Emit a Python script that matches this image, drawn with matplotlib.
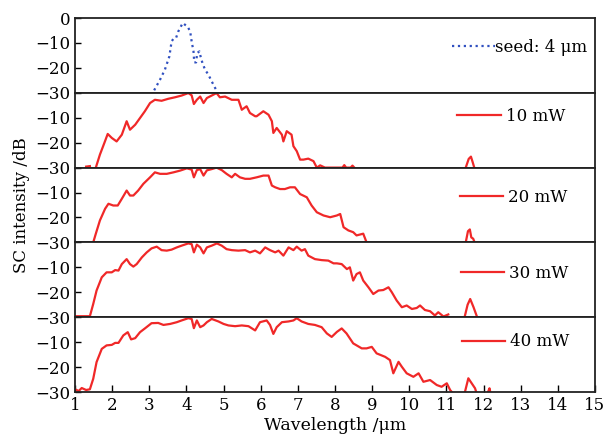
import matplotlib
matplotlib.use("Agg")
import matplotlib.pyplot as plt

plt.rcParams.update({"font.family": ["DejaVu Serif"],
                     "font.size": 12,
                     "axes.unicode_minus": True})

# seed pulse at 4 um
seed_wl = [3.13, 3.29, 3.42, 3.54, 3.60, 3.65, 3.72, 3.78, 3.90, 3.96, 4.03, 4.10,
           4.14, 4.19, 4.21, 4.26, 4.29, 4.35, 4.38, 4.43, 4.50, 4.59, 4.68, 4.77, 4.83]
seed_db = [-29.0, -24.7, -20.7, -15.4, -9.4, -8.3, -8.0, -5.4, -2.0, -2.7, -3.4, -5.4,
           -9.4, -13.4, -17.8, -17.8, -14.0, -13.4, -15.4, -18.0, -20.7, -22.7, -25.4, -28.0, -29.6]

# 10 mW
p10_wl = [1.30, 1.40, None, 1.56, 1.67, 1.79, 1.88, 1.99, 2.12, 2.26, 2.39, 2.48, 2.62, 2.75,
          2.88, 3.02, 3.15, 3.33, 3.51, 3.69, 3.87, 4.05, 4.14, 4.20, 4.28, 4.37, 4.46,
          4.55, 4.68, 4.81, 4.90, 5.04, 5.22, 5.40, 5.49, 5.62, 5.71, 5.85, 5.89, 6.07,
          6.21, 6.30, 6.34, 6.43, 6.57, 6.61, 6.70, 6.83, 6.88, 6.97, 7.06, 7.15, 7.28,
          7.42, 7.51, 7.60, 7.73, 7.85, 8.20, 8.25, 8.30, 8.42, 8.47, 8.52, None,
          11.52, 11.60, 11.66, 11.70, 11.75]
p10_db = [-29.6, -29.4, None, -30.0, -24.8, -20.1, -16.5, -18.1, -19.5, -16.8, -11.4, -14.8,
          -12.8, -10.1, -7.4, -4.1, -2.8, -3.2, -2.4, -1.8, -1.1, -0.1, -1.0, -4.5, -2.8,
          -1.5, -4.1, -2.1, -1.1, -0.1, -1.8, -1.5, -2.8, -2.8, -6.8, -5.4, -8.1, -9.4,
          -9.4, -7.4, -8.8, -11.4, -16.1, -14.1, -16.8, -19.5, -15.4, -16.8, -21.4, -23.4,
          -26.8, -26.8, -26.4, -27.4, -30.0, -29.1, -30.0, -30.0, -30.0, -29.0, -30.0,
          -30.0, -29.2, -30.0, None, -30.0, -26.5, -25.6, -27.5, -30.0]

# 20 mW
p20_wl = [1.49, 1.56, 1.67, 1.81, 1.90, 2.03, 2.15, 2.26, 2.39, 2.48, 2.57, 2.70, 2.84,
          3.02, 3.15, 3.29, 3.47, 3.65, 3.83, 4.01, 4.14, 4.20, 4.28, 4.37, 4.46, 4.55,
          4.68, 4.81, 4.95, 5.08, 5.22, 5.31, 5.44, 5.58, 5.71, 5.89, 6.07, 6.21, 6.30,
          6.39, 6.52, 6.65, 6.79, 6.92, 7.06, 7.24, 7.37, 7.51, 7.69, 7.87, 8.05, 8.14,
          8.23, 8.36, 8.49, 8.58, 8.76, 8.85, None, 11.52, 11.58, 11.63, 11.67, 11.72, 11.76]
p20_db = [-30.0, -26.5, -21.2, -16.5, -14.5, -15.2, -15.2, -12.5, -9.2, -11.2, -11.2,
          -9.2, -6.5, -3.9, -1.9, -2.5, -2.5, -1.9, -1.2, -0.3, -0.8, -3.9, -1.0, -0.6,
          -3.2, -1.1, -0.6, 0.0, -1.0, -2.5, -3.9, -2.5, -3.9, -4.5, -4.5, -3.9, -3.2,
          -3.2, -7.2, -7.9, -8.6, -8.6, -7.9, -7.9, -10.6, -11.9, -15.2, -17.9, -19.2,
          -19.9, -19.2, -18.6, -23.9, -25.2, -25.9, -27.2, -26.5, -30.0, None,
          -30.0, -25.5, -24.8, -28.0, -28.5, -30.0]

# 30 mW
p30_wl = [1.00, 1.20, 1.40, 1.49, 1.58, 1.72, 1.85, 1.99, 2.08, 2.17, 2.26, 2.39, 2.48,
          2.57, 2.66, 2.80, 2.93, 3.06, 3.20, 3.33, 3.47, 3.60, 3.74, 3.87, 4.05, 4.14,
          4.20, 4.28, 4.37, 4.46, 4.55, 4.68, 4.82, 4.95, 5.08, 5.22, 5.40, 5.58, 5.71,
          5.85, 5.98, 6.12, 6.25, 6.39, 6.48, 6.61, 6.75, 6.88, 6.97, 7.10, 7.19, 7.28,
          7.46, 7.64, 7.82, 7.96, 8.05, 8.18, 8.32, 8.40, 8.49, 8.58, 8.67, 8.76, 8.90,
          9.03, 9.17, 9.30, 9.44, 9.53, 9.66, 9.80, 9.93, 10.07, 10.20, 10.29, 10.42,
          10.56, 10.69, 10.78, 10.92, 11.05, None, 11.50, 11.57, 11.64, 11.73, 11.82]
p30_db = [-29.6, -29.6, -29.6, -24.7, -19.3, -14.0, -12.0, -12.0, -11.1, -11.3, -8.7,
          -6.7, -8.7, -9.7, -8.7, -6.0, -4.0, -2.4, -1.7, -3.1, -3.3, -2.9, -2.0, -1.3,
          -0.4, -0.7, -4.0, -0.9, -2.0, -4.4, -2.0, -1.3, -0.4, -1.3, -2.7, -3.1, -3.3,
          -3.1, -4.0, -3.3, -4.4, -2.0, -3.1, -4.0, -3.3, -5.3, -2.0, -3.1, -1.7, -3.3,
          -2.7, -5.3, -6.7, -7.1, -7.3, -8.4, -8.4, -8.7, -10.7, -10.0, -15.3, -12.7,
          -12.0, -15.3, -18.0, -20.7, -19.3, -19.1, -18.0, -20.0, -23.3, -26.0, -25.3,
          -26.7, -26.3, -25.3, -27.1, -27.6, -29.3, -28.0, -29.7, -28.9, None,
          -29.3, -25.0, -22.7, -26.0, -29.7]

# 40 mW
p40_wl = [1.00, 1.10, 1.18, 1.30, 1.40, 1.49, 1.58, 1.72, 1.85, 1.99, 2.08, 2.17, 2.30,
          2.42, 2.51, 2.62, 2.75, 2.89, 3.06, 3.24, 3.38, 3.56, 3.74, 3.87, 4.05, 4.14,
          4.20, 4.28, 4.37, 4.46, 4.55, 4.68, 4.86, 5.00, 5.13, 5.31, 5.49, 5.67, 5.85,
          5.98, 6.16, 6.25, 6.34, 6.43, 6.57, 6.75, 6.88, 6.97, 7.10, 7.28, 7.46, 7.64,
          7.78, 7.91, 8.05, 8.18, 8.31, 8.49, 8.72, 8.85, 8.99, 9.12, 9.35, 9.48, 9.57,
          9.71, 9.80, 9.93, 10.11, 10.25, 10.38, 10.56, 10.74, 10.87, 11.01, 11.10,
          11.14, None, 11.50, 11.59, 11.68, 11.77, 11.80, None, 12.12, 12.16, 12.18]
p40_db = [-28.9, -29.6, -28.4, -29.2, -28.9, -24.7, -18.0, -12.7, -11.3, -11.1, -10.3,
          -10.3, -7.3, -6.0, -8.9, -8.4, -6.0, -4.4, -2.4, -2.3, -3.1, -2.7, -2.0, -1.3,
          -0.4, -0.7, -4.4, -1.3, -4.0, -3.3, -2.0, -0.7, -1.7, -2.7, -3.3, -3.6, -3.3,
          -3.6, -5.3, -2.0, -1.3, -3.1, -6.7, -4.0, -2.0, -1.7, -1.3, -0.4, -1.7, -2.7,
          -3.1, -4.0, -6.5, -7.9, -5.9, -4.5, -6.5, -10.5, -12.5, -12.5, -11.9, -14.5,
          -15.9, -17.2, -22.5, -17.9, -19.9, -22.5, -23.9, -22.5, -25.9, -25.2, -27.2,
          -27.9, -26.5, -29.2, -29.9, None, -29.9, -24.5, -26.5, -28.5, -29.9, None,
          -30.0, -28.5, -30.0]

labels = ["seed: 4 μm", "10 mW", "20 mW", "30 mW", "40 mW"]
wls = [seed_wl, p10_wl, p20_wl, p30_wl, p40_wl]
dbs = [seed_db, p10_db, p20_db, p30_db, p40_db]
leg_x = [0.725, 0.735, 0.740, 0.742, 0.744]
leg_y = [0.61, 0.68, 0.60, 0.59, 0.67]

fig, axes = plt.subplots(5, 1, sharex=True, figsize=(6.08, 4.36), dpi=100)
fig.subplots_adjust(left=0.1234, right=0.9786, bottom=0.1009, top=0.9587, hspace=0)

for i, ax in enumerate(axes):
    x = [v if v is not None else float("nan") for v in wls[i]]
    y = [v if v is not None else float("nan") for v in dbs[i]]
    if i == 0:
        ax.plot(x, y, color="#3050c0", linestyle=":", linewidth=1.6, label=labels[i])
    else:
        ax.plot(x, y, color="#f02828", linewidth=1.6, label=labels[i])
    ax.set_ylim(-30, 0)
    ax.set_xlim(1, 15)
    ax.set_yticks([-30, -20, -10, 0])
    top_lbl = "0" if i == 0 else ""
    ax.set_yticklabels(["−30", "−20", "−10", top_lbl])
    ax.tick_params(axis="y", direction="in", length=4, width=1, pad=3, labelsize=12)
    ax.tick_params(axis="x", direction="in", length=5, width=1, labelsize=12,
                   bottom=(i == 4), labelbottom=(i == 4))
    for s in ax.spines.values():
        s.set_linewidth(1.3)
        s.set_color("#222222")
    ax.legend(loc="center left", bbox_to_anchor=(leg_x[i], leg_y[i]), frameon=False,
              borderpad=0, borderaxespad=0, handlelength=2.6,
              handletextpad=0.0 if i == 0 else 0.3, fontsize=12)

axes[4].set_xticks(range(1, 16))
axes[4].set_xlabel("Wavelength /μm", fontsize=12.5, labelpad=2)
fig.text(0.035, 0.53, "SC intensity /dB", rotation=90, ha="center", va="center", fontsize=12)

plt.savefig("out.png", dpi=100)
